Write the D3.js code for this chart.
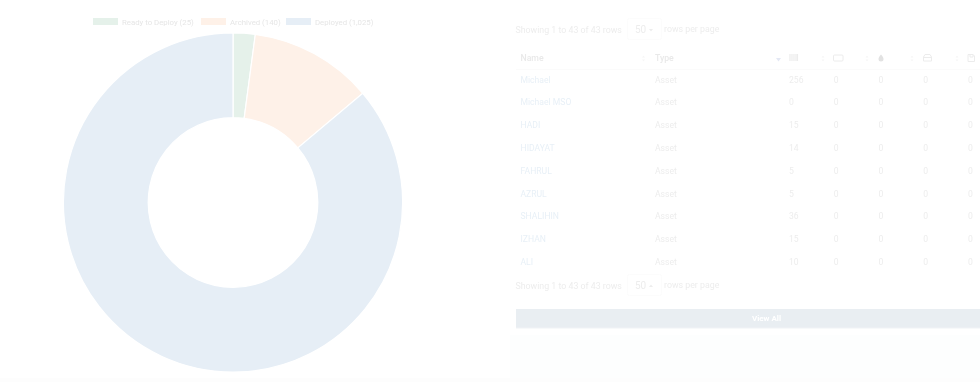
<!DOCTYPE html>
<html>
<head>
<meta charset="utf-8">
<script src="https://cdn.jsdelivr.net/npm/d3@7"></script>
<style>
html,body{margin:0;padding:0;background:#fff;}
svg{display:block;}
text{font-family:Roboto,sans-serif;filter:blur(0.3px);}
</style>
</head>
<body>
<div id="chart"></div>
<script>
var statusNames = ["Ready to Deploy","Archived","Deployed"];
var statusValues = [25,140,1025];
var statusColors = ["#e5f1ea","#fef1e8","#e6eef6"];

var rowNames = ["Michael","Michael MSO","HADI","HIDAYAT","FAHRUL","AZRUL","SHALIHIN","IZHAN","ALI"];
var rowTypes = ["Asset","Asset","Asset","Asset","Asset","Asset","Asset","Asset","Asset"];
var col1 = [256,0,15,14,5,5,36,15,10];
var col2 = [0,0,0,0,0,0,0,0,0];
var col3 = [0,0,0,0,0,0,0,0,0];
var col4 = [0,0,0,0,0,0,0,0,0];
var col5 = [0,0,0,0,0,0,0,0,0];
var numCols = [col1,col2,col3,col4,col5];
var pagerText = "Showing 1 to 43 of 43 rows";

var w = 980, h = 382;
var svg = d3.select("#chart").append("svg").attr("width",w).attr("height",h);

// page background
svg.append("rect").attr("x",510).attr("y",335).attr("width",470).attr("height",47).attr("fill","#fdfefe");
svg.append("rect").attr("x",0).attr("y",378).attr("width",980).attr("height",4).attr("fill","#fdfdfd");

// donut
var pie = d3.pie().sort(null).startAngle(0).endAngle(2*Math.PI);
var arc = d3.arc().innerRadius(84.8).outerRadius(169.6);
var donut = svg.append("g").attr("transform","translate(233,202.5)");
donut.selectAll("path")
    .data(pie(statusValues))
    .enter()
    .append("path")
    .attr("d",arc)
    .attr("fill",function(d,i){ return statusColors[i];})
    .attr("stroke","#fff")
    .attr("stroke-width",1.2);

// legend
var legendX = [93,201,286];
var legend = svg.append("g").selectAll("g")
    .data(statusNames)
    .enter()
    .append("g")
    .attr("transform",function(d,i){ return "translate(" + legendX[i] + ",18)";});
legend.append("rect").attr("width",25).attr("height",7)
    .attr("fill",function(d,i){ return statusColors[i];});
legend.append("text").attr("x",29).attr("y",6.5)
    .attr("font-size",7.8).attr("fill","#e6e6e6")
    .text(function(d,i){ return d + " (" + d3.format(",")(statusValues[i]) + ")";});

// table
var table = svg.append("g");
var xName = 520.5, xType = 655;
var xCol = d3.scalePoint().domain(d3.range(5)).range([789,968]);
var yRow = d3.scalePoint().domain(d3.range(rowNames.length)).range([79.5,262]);
var grey = "#ededed";

function pager(y,up){
    table.append("text").attr("x",515.5).attr("y",y+3.5).attr("font-size",8.8).attr("fill",grey).text(pagerText);
    table.append("rect").attr("x",627.5).attr("y",y-10.5).attr("width",34).attr("height",21).attr("rx",2)
        .attr("fill","none").attr("stroke","#fcfcfc");
    table.append("text").attr("x",635).attr("y",y+4).attr("font-size",10).attr("fill",grey).text("50");
    table.append("path").attr("d",up ? "M649,"+(y+2)+"l2,-2.5l2,2.5z" : "M649,"+(y)+"l4,0l-2,2.5z").attr("fill",grey);
    table.append("text").attr("x",664).attr("y",y+3).attr("font-size",8.8).attr("fill",grey).text("rows per page");
}
pager(29,false);
pager(285,true);

// header
table.append("text").attr("x",520.5).attr("y",61).attr("font-size",8.7).attr("font-weight",500).attr("fill","#e9e9e9").text("Name");
table.append("text").attr("x",655).attr("y",61).attr("font-size",8.7).attr("font-weight",500).attr("fill","#e9e9e9").text("Type");
table.append("line").attr("x1",516).attr("x2",980).attr("y1",69.5).attr("y2",69.5).attr("stroke","#fbfbfb");

var caretX = [643.5,823,867,912,957];
table.selectAll("path.caret")
    .data(caretX)
    .enter()
    .append("path")
    .attr("class","caret")
    .attr("d",function(d){ return "M"+(d-1.5)+",57.5l1.5,-2l1.5,2zM"+(d-1.5)+",59.5l1.5,2l1.5,-2z";})
    .attr("fill","#f6f6f6");
table.append("path").attr("d","M776,58l5,0l-2.5,3.5z").attr("fill","#e4e8f4");

// header icons
var icons = table.append("g").attr("fill","none").attr("stroke","#ececec");
icons.append("path").attr("d","M790,54v7M792,54v7M794,54v7M796,54v7M797.5,54v7").attr("stroke-width",1.2);
icons.append("rect").attr("x",833.5).attr("y",55).attr("width",9.5).attr("height",6).attr("rx",1);
icons.append("path").attr("d","M881,54.5c-2,2.5 -2.5,3.5 -2.5,4.5a2.5,2.5 0 0 0 5,0c0,-1 -0.5,-2 -2.5,-4.5z").attr("fill","#e2e2e2").attr("stroke","none");
icons.append("path").attr("d","M923.5,61v-4l1.5,-2.5h5l1.5,2.5v4zM923.5,57.5h8");
icons.append("path").attr("d","M968,54.5h5l1.5,1.5v5.5h-6.5zM970,54.5v2.5h3v-2.5");

// rows
var rows = table.selectAll("g.row")
    .data(rowNames)
    .enter()
    .append("g")
    .attr("class","row")
    .attr("transform",function(d,i){ return "translate(0," + yRow(i) + ")";});
rows.append("text").attr("x",xName).attr("y",3).attr("font-size",8.6).attr("fill","#e8f0f7").text(function(d){ return d;});
rows.append("text").attr("x",xType).attr("y",3).attr("font-size",8.6).attr("fill",grey).text(function(d,i){ return rowTypes[i];});
numCols.forEach(function(vals,c){
    rows.append("text").attr("x",xCol(c)).attr("y",3).attr("font-size",8.6).attr("fill",grey).text(function(d,i){ return vals[i];});
});

// view all button
table.append("rect").attr("x",516).attr("y",309).attr("width",464).attr("height",19).attr("fill","#e9eef2");
table.append("line").attr("x1",516).attr("x2",980).attr("y1",328).attr("y2",328).attr("stroke","#f0f3f6");
table.append("text").attr("x",766.5).attr("y",321).attr("text-anchor","middle").attr("font-size",8).attr("font-weight",700).attr("fill","#fff").text("View All");
</script>
</body>
</html>
